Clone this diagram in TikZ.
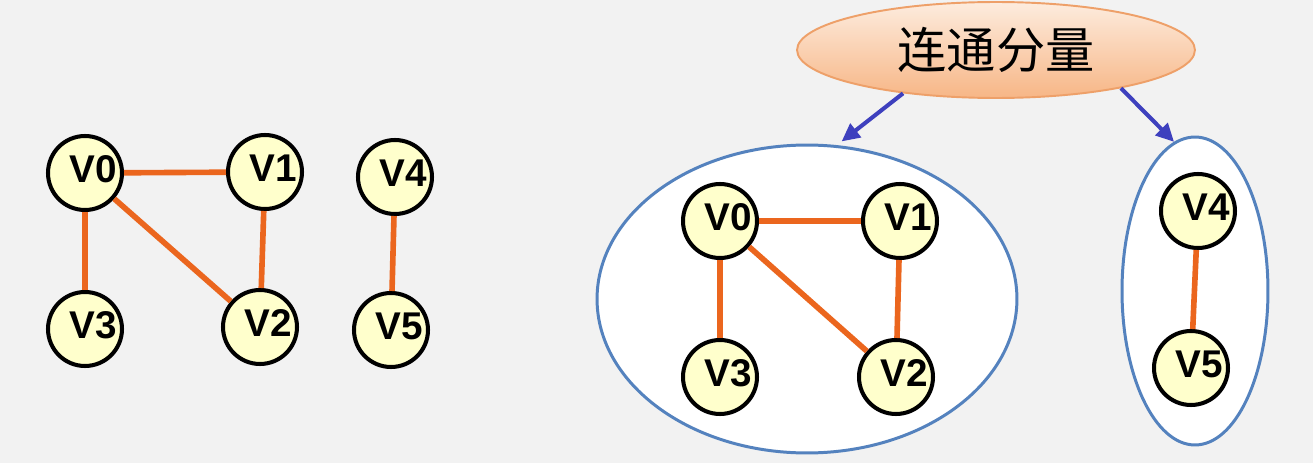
\documentclass[tikz,border=0pt]{standalone}
\usepackage{fontspec}
\newfontfamily\cjk{Noto Sans CJK SC}
\newfontfamily\vfont{Liberation Sans}
\usetikzlibrary{shapes.geometric,arrows.meta}
\definecolor{edgeor}{RGB}{235,102,30}
\definecolor{compblue}{RGB}{84,130,190}
\definecolor{arrblue}{RGB}{62,64,190}
\definecolor{bgcol}{RGB}{242,242,242}
\definecolor{vfill}{RGB}{255,255,204}
\definecolor{topborder}{RGB}{238,160,105}
\definecolor{toptop}{RGB}{253,236,222}
\definecolor{topbot}{RGB}{247,182,134}
\tikzset{
  vlab/.style={font=\vfont\bfseries\fontsize{22}{24}\selectfont, xshift=0.17cm, yshift=0.08cm, inner sep=0pt},
  vert/.style={circle, draw=black, line width=2.3pt, fill=vfill, minimum size=1.48cm, inner sep=0pt, label={[vlab]center:#1}},
  edge/.style={draw=edgeor, line width=3.2pt},
  comp/.style={ellipse, draw=compblue, line width=1.7pt, fill=white, inner sep=0pt},
  topell/.style={ellipse, draw=topborder, line width=1.1pt, top color=toptop, bottom color=topbot, inner sep=0pt, font=\cjk\fontsize{28}{30}\selectfont},
  arr/.style={draw=arrblue, line width=2.3pt, -{Triangle[length=0.36cm,width=0.34cm]}}
}
\begin{document}
\begin{tikzpicture}[x=0.02cm,y=-0.02cm]
\fill[bgcol] (0,0) rectangle (1313,463);
\useasboundingbox (0,0) rectangle (1313,463);
% left graph
\node[vert=V0] (a0) at (85,173) {};
\node[vert=V1] (a1) at (265,172) {};
\node[vert=V4] (a4) at (395,177) {};
\node[vert=V3] (a3) at (85,329) {};
\node[vert=V2] (a2) at (260,327) {};
\node[vert=V5] (a5) at (391,330) {};
\draw[edge] (a0) -- (a1);
\draw[edge] (a0) -- (a3);
\draw[edge] (a0) -- (a2);
\draw[edge] (a1) -- (a2);
\draw[edge] (a4) -- (a5);
% components
\node[comp, minimum width=8.4cm, minimum height=6.16cm] (ca) at (807,299) {};
\node[comp, minimum width=2.92cm, minimum height=6.16cm] (cb) at (1195,291) {};
\node[vert=V0] (b0) at (720,221) {};
\node[vert=V1] (b1) at (900,221) {};
\node[vert=V3] (b3) at (720,377) {};
\node[vert=V2] (b2) at (896,377) {};
\node[vert=V4] (b4) at (1198,211) {};
\node[vert=V5] (b5) at (1191,368) {};
\draw[edge] (b0) -- (b1);
\draw[edge] (b0) -- (b3);
\draw[edge] (b0) -- (b2);
\draw[edge] (b1) -- (b2);
\draw[edge] (b4) -- (b5);
% top label
\node[topell, minimum width=7.96cm, minimum height=1.92cm] (top) at (996,50) {连通分量};
\draw[arr, shorten >=0.12cm] (top.205) -- (ca.79);
\draw[arr] (top.343) -- (cb.98);
\end{tikzpicture}
\end{document}
